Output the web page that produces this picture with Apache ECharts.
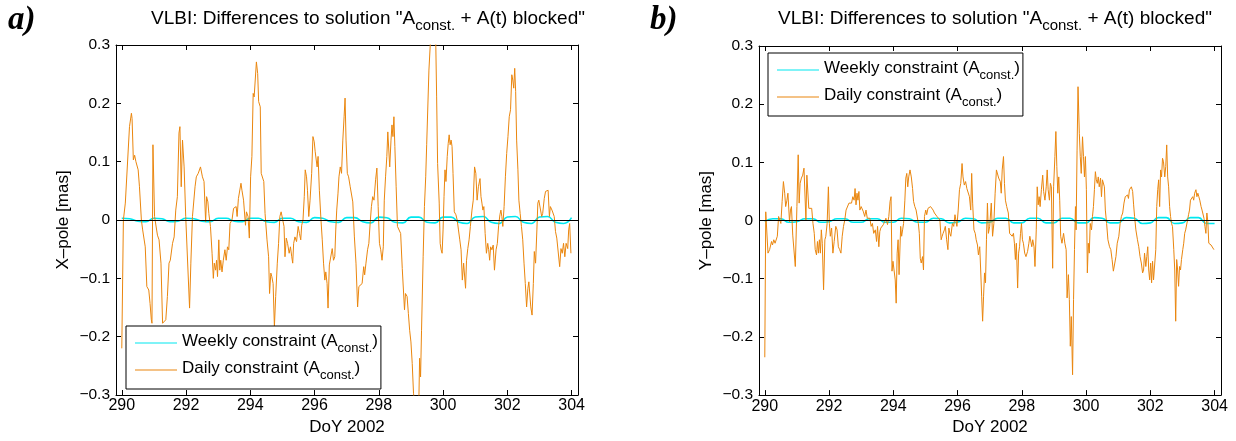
<!DOCTYPE html>
<html>
<head>
<meta charset="utf-8">
<script src="https://cdn.jsdelivr.net/npm/echarts@6/dist/echarts.min.js"></script>
<style>
html,body{margin:0;padding:0;background:#fff;}
#chart{width:1236px;height:441px;}
</style>
</head>
<body>
<div id="chart"></div>
<script>
// ---------------- data ----------------
const xTicks = [290, 292, 294, 296, 298, 300, 302, 304];
const seriesNames = ['Weekly constraint (A_const.)', 'Daily constraint (A_const.)'];
const titleText = 'VLBI: Differences to solution "A_const. + A(t) blocked"';
const yNames = ['X\u2013pole [mas]', 'Y\u2013pole [mas]'];
const xName = 'DoY 2002';
const panelLabels = ['a)', 'b)'];

// weekly constraint solution, sampled every 6 h
const weekDays = [290.00,290.25,290.50,290.75,291.00,291.25,291.50,291.75,292.00,292.25,292.50,292.75,293.00,293.25,293.50,293.75,294.00,294.25,294.50,294.75,295.00,295.25,295.50,295.75,296.00,296.25,296.50,296.75,297.00,297.25,297.50,297.75,298.00,298.25,298.50,298.75,299.00,299.25,299.50,299.75,300.00,300.25,300.50,300.75,301.00,301.25,301.50,301.75,302.00,302.25,302.50,302.75,303.00,303.25,303.50,303.75,304.00];
const weeklyX = [0.003,0.002,-0.002,-0.003,0.003,0.002,-0.003,-0.002,0.003,0.002,-0.002,-0.003,0.003,0.003,-0.002,-0.003,0.003,0.003,-0.003,-0.004,0.003,0.003,-0.003,-0.004,0.004,0.003,-0.003,-0.004,0.004,0.004,-0.003,-0.005,0.005,0.004,-0.004,-0.005,0.005,0.005,-0.004,-0.005,0.005,0.005,-0.004,-0.006,0.005,0.006,-0.004,-0.006,0.005,0.006,-0.004,-0.006,0.005,0.006,-0.004,-0.006,0.004];
const weeklyY = [-0.002,0.003,0.003,-0.003,-0.002,0.003,0.003,-0.003,-0.002,0.003,0.003,-0.003,-0.003,0.003,0.003,-0.003,-0.003,0.004,0.003,-0.003,-0.003,0.004,0.003,-0.004,-0.003,0.004,0.003,-0.004,-0.003,0.004,0.004,-0.004,-0.004,0.004,0.004,-0.004,-0.004,0.004,0.004,-0.004,-0.004,0.005,0.004,-0.004,-0.004,0.005,0.004,-0.005,-0.004,0.005,0.005,-0.005,-0.004,0.005,0.005,-0.005,-0.005];

// daily constraint solution, X-pole: [DoY, mas]
const dailyX = [[290.00,-0.220],[290.05,0.000],[290.11,0.029],[290.24,0.160],[290.30,0.183],[290.32,0.174],[290.36,0.103],[290.40,0.111],[290.44,0.100],[290.48,0.100],[290.51,0.086],[290.55,0.057],[290.61,0.000],[290.65,-0.017],[290.73,-0.046],[290.78,-0.114],[290.84,-0.120],[290.88,-0.143],[290.92,-0.171],[290.94,-0.177],[290.97,0.129],[291.02,0.006],[291.11,-0.026],[291.16,-0.034],[291.22,-0.074],[291.27,-0.177],[291.32,-0.180],[291.37,-0.171],[291.42,-0.131],[291.47,-0.074],[291.51,-0.069],[291.54,-0.069],[291.58,-0.040],[291.63,-0.029],[291.68,0.017],[291.73,0.040],[291.78,0.149],[291.81,0.160],[291.85,0.057],[291.87,0.060],[291.89,0.137],[291.94,0.091],[291.99,0.006],[292.04,-0.060],[292.07,-0.063],[292.11,-0.151],[292.15,-0.074],[292.20,0.006],[292.28,0.057],[292.32,0.074],[292.38,0.080],[292.45,0.091],[292.51,0.074],[292.56,0.066],[292.61,-0.003],[292.64,0.040],[292.68,0.031],[292.71,0.011],[292.76,-0.011],[292.81,-0.057],[292.85,-0.100],[292.88,-0.074],[292.92,-0.086],[292.95,-0.069],[292.98,-0.097],[293.02,-0.034],[293.05,-0.086],[293.08,-0.069],[293.12,-0.089],[293.16,-0.069],[293.21,-0.051],[293.25,-0.069],[293.29,-0.046],[293.33,-0.051],[293.37,-0.006],[293.43,0.000],[293.48,0.020],[293.53,0.017],[293.56,0.023],[293.59,0.006],[293.63,0.037],[293.67,0.034],[293.71,0.063],[293.74,0.051],[293.79,0.034],[293.85,-0.009],[293.88,0.014],[293.93,0.006],[293.97,-0.031],[294.01,0.074],[294.05,0.109],[294.09,0.217],[294.12,0.211],[294.19,0.271],[294.23,0.251],[294.26,0.203],[294.31,0.194],[294.34,0.080],[294.38,0.080],[294.42,0.066],[294.46,0.011],[294.52,-0.034],[294.57,-0.063],[294.60,-0.126],[294.64,-0.091],[294.67,-0.097],[294.71,-0.109],[294.75,-0.183],[294.79,-0.131],[294.84,-0.074],[294.88,-0.040],[294.92,0.006],[294.96,0.014],[295.00,0.017],[295.05,-0.011],[295.08,-0.063],[295.12,-0.031],[295.16,-0.040],[295.21,-0.057],[295.25,-0.046],[295.29,-0.063],[295.32,-0.074],[295.35,-0.040],[295.39,-0.029],[295.44,-0.037],[295.49,-0.011],[295.53,-0.023],[295.57,-0.034],[295.60,-0.009],[295.64,0.000],[295.68,0.040],[295.71,0.086],[295.75,0.074],[295.78,0.051],[295.82,0.006],[295.86,0.034],[295.91,0.080],[295.95,0.143],[295.99,0.134],[296.02,0.117],[296.05,0.120],[296.08,0.091],[296.11,0.109],[296.15,0.051],[296.20,0.000],[296.24,-0.034],[296.28,-0.074],[296.32,-0.103],[296.35,-0.089],[296.39,-0.109],[296.42,-0.151],[296.46,-0.077],[296.51,-0.074],[296.55,-0.049],[296.59,-0.069],[296.63,-0.063],[296.66,-0.017],[296.69,0.017],[296.73,0.046],[296.76,0.074],[296.80,0.091],[296.84,0.080],[296.88,0.137],[296.92,0.177],[296.95,0.209],[296.98,0.137],[297.02,0.080],[297.06,0.074],[297.11,0.057],[297.15,0.060],[297.19,0.031],[297.24,-0.029],[297.29,-0.074],[297.34,-0.149],[297.38,-0.114],[297.43,-0.111],[297.48,-0.109],[297.53,-0.080],[297.56,-0.094],[297.60,-0.074],[297.65,-0.051],[297.69,-0.040],[297.73,-0.006],[297.77,0.023],[297.81,0.040],[297.85,0.034],[297.90,0.069],[297.94,0.089],[297.98,0.023],[298.02,-0.040],[298.06,-0.051],[298.10,-0.069],[298.14,-0.046],[298.17,0.034],[298.21,0.074],[298.25,0.109],[298.28,0.151],[298.31,0.149],[298.34,0.091],[298.38,0.137],[298.41,0.163],[298.44,0.143],[298.47,0.177],[298.50,0.126],[298.54,0.057],[298.58,-0.011],[298.63,-0.011],[298.68,-0.023],[298.73,-0.083],[298.76,-0.086],[298.80,-0.154],[298.83,-0.126],[298.88,-0.131],[298.92,-0.160],[298.96,-0.189],[299.00,-0.209],[299.04,-0.246],[299.08,-0.297],[299.15,-0.331],[299.21,-0.340],[299.25,-0.300],[299.27,-0.237],[299.30,-0.269],[299.33,-0.189],[299.38,-0.063],[299.42,0.023],[299.46,0.074],[299.49,0.129],[299.53,0.129],[299.56,0.257],[299.59,0.260],[299.63,0.330],[299.69,0.360],[299.75,0.340],[299.77,0.314],[299.80,0.211],[299.83,0.097],[299.88,0.029],[299.91,-0.040],[299.94,-0.051],[299.97,-0.057],[300.00,-0.017],[300.03,0.040],[300.06,0.086],[300.09,0.066],[300.13,0.109],[300.16,0.131],[300.19,0.146],[300.22,0.129],[300.25,0.137],[300.28,0.126],[300.31,0.080],[300.35,0.014],[300.40,0.009],[300.44,0.000],[300.48,-0.017],[300.52,-0.034],[300.56,-0.051],[300.60,-0.103],[300.64,-0.074],[300.67,-0.074],[300.70,-0.117],[300.73,-0.069],[300.77,-0.049],[300.81,-0.034],[300.85,-0.011],[300.90,0.017],[300.94,0.034],[300.98,0.091],[301.02,0.080],[301.06,0.034],[301.10,0.057],[301.15,0.071],[301.18,0.040],[301.21,0.029],[301.24,0.017],[301.27,0.023],[301.31,-0.023],[301.35,-0.057],[301.39,-0.040],[301.42,-0.051],[301.45,-0.069],[301.48,-0.046],[301.52,-0.051],[301.56,-0.043],[301.60,-0.086],[301.65,-0.051],[301.69,-0.040],[301.73,-0.009],[301.77,0.009],[301.80,0.017],[301.83,0.006],[301.86,-0.011],[301.90,0.023],[301.94,0.074],[301.98,0.114],[302.02,0.143],[302.06,0.177],[302.10,0.189],[302.14,0.249],[302.17,0.240],[302.20,0.226],[302.23,0.260],[302.26,0.220],[302.29,0.137],[302.33,0.086],[302.36,0.034],[302.40,0.011],[302.44,-0.011],[302.48,-0.034],[302.52,-0.074],[302.56,-0.109],[302.60,-0.149],[302.64,-0.117],[302.67,-0.106],[302.70,-0.109],[302.73,-0.149],[302.77,-0.163],[302.81,-0.109],[302.84,-0.054],[302.88,-0.074],[302.92,-0.017],[302.95,0.029],[302.98,0.034],[303.01,0.037],[303.04,0.034],[303.07,0.006],[303.10,0.011],[303.15,0.037],[303.19,0.049],[303.23,0.051],[303.27,0.051],[303.31,0.006],[303.34,0.023],[303.39,0.017],[303.43,0.014],[303.46,0.006],[303.50,-0.020],[303.54,-0.031],[303.58,-0.034],[303.63,-0.080],[303.67,-0.049],[303.71,-0.057],[303.75,-0.040],[303.79,-0.063],[303.83,-0.040],[303.88,-0.049],[303.91,-0.017],[303.94,-0.006],[303.98,-0.057]];

// daily constraint solution, Y-pole: [DoY, mas]
const dailyY = [[290.00,-0.235],[290.03,0.015],[290.10,-0.056],[290.15,-0.050],[290.21,-0.036],[290.24,-0.042],[290.28,-0.033],[290.32,-0.039],[290.36,-0.036],[290.39,-0.027],[290.43,0.007],[290.46,0.010],[290.50,-0.005],[290.54,0.033],[290.58,0.067],[290.62,0.047],[290.65,0.024],[290.69,0.035],[290.72,0.047],[290.75,0.050],[290.77,-0.002],[290.80,0.018],[290.83,0.024],[290.87,-0.025],[290.91,-0.027],[290.95,-0.079],[291.00,0.024],[291.04,0.113],[291.07,0.030],[291.10,0.064],[291.14,0.073],[291.18,0.078],[291.22,0.090],[291.25,0.087],[291.28,0.001],[291.31,0.078],[291.34,0.078],[291.37,0.021],[291.42,0.021],[291.46,0.021],[291.50,-0.005],[291.54,-0.022],[291.57,-0.050],[291.61,-0.059],[291.64,-0.036],[291.67,-0.056],[291.70,-0.033],[291.73,-0.056],[291.76,-0.016],[291.79,-0.039],[291.83,-0.119],[291.87,-0.033],[291.90,-0.027],[291.94,-0.005],[291.98,0.058],[292.01,-0.005],[292.04,-0.027],[292.08,-0.013],[292.12,-0.056],[292.16,-0.036],[292.21,-0.010],[292.25,-0.016],[292.29,-0.045],[292.33,-0.050],[292.37,-0.056],[292.41,-0.027],[292.45,-0.010],[292.49,0.001],[292.53,0.018],[292.57,0.021],[292.62,0.030],[292.66,0.027],[292.70,0.030],[292.74,0.041],[292.78,0.035],[292.81,0.055],[292.84,0.027],[292.87,0.047],[292.90,0.035],[292.93,0.050],[292.96,0.018],[293.00,0.024],[293.03,0.021],[293.07,0.015],[293.11,0.007],[293.15,0.018],[293.19,0.004],[293.23,0.007],[293.27,0.004],[293.31,-0.010],[293.35,-0.005],[293.39,-0.022],[293.44,-0.016],[293.48,-0.036],[293.51,-0.010],[293.55,-0.045],[293.58,-0.019],[293.61,-0.013],[293.65,-0.010],[293.69,-0.007],[293.73,-0.002],[293.77,0.004],[293.82,-0.007],[293.86,0.007],[293.90,0.033],[293.93,0.041],[293.96,-0.087],[293.99,-0.070],[294.03,-0.073],[294.06,-0.102],[294.09,-0.142],[294.12,-0.056],[294.15,-0.033],[294.18,-0.093],[294.23,-0.010],[294.26,-0.027],[294.29,-0.016],[294.32,-0.005],[294.36,0.035],[294.39,0.073],[294.42,0.081],[294.45,0.058],[294.48,0.075],[294.52,0.087],[294.56,0.075],[294.60,0.055],[294.63,0.033],[294.67,0.024],[294.71,0.018],[294.75,0.015],[294.78,-0.005],[294.81,-0.022],[294.84,-0.065],[294.87,-0.073],[294.91,-0.062],[294.94,-0.085],[294.97,0.007],[295.01,0.018],[295.04,0.010],[295.08,0.021],[295.12,0.018],[295.16,0.024],[295.20,0.027],[295.24,0.018],[295.28,0.013],[295.32,0.010],[295.36,0.007],[295.41,0.004],[295.45,0.001],[295.49,-0.033],[295.52,-0.027],[295.55,-0.022],[295.59,-0.016],[295.62,-0.010],[295.66,-0.033],[295.70,-0.050],[295.73,-0.013],[295.76,-0.022],[295.79,-0.027],[295.84,-0.005],[295.88,-0.010],[295.92,0.010],[295.95,0.007],[295.98,-0.010],[296.02,0.018],[296.06,0.053],[296.10,0.064],[296.14,0.098],[296.17,0.075],[296.21,0.061],[296.25,0.067],[296.29,0.055],[296.33,0.055],[296.37,0.041],[296.41,0.018],[296.44,0.081],[296.47,0.030],[296.51,-0.016],[296.55,-0.022],[296.58,-0.033],[296.62,-0.042],[296.65,-0.059],[296.69,-0.045],[296.72,-0.085],[296.75,-0.130],[296.78,-0.173],[296.81,-0.130],[296.84,-0.090],[296.87,-0.107],[296.90,-0.033],[296.93,0.030],[296.96,-0.022],[297.00,-0.010],[297.05,0.030],[297.09,-0.027],[297.13,-0.005],[297.17,0.047],[297.21,0.087],[297.25,0.084],[297.28,0.073],[297.33,0.067],[297.36,0.047],[297.39,0.087],[297.43,0.110],[297.46,0.064],[297.49,0.035],[297.53,0.024],[297.58,0.013],[297.62,-0.022],[297.66,-0.019],[297.70,-0.027],[297.74,-0.022],[297.77,-0.039],[297.80,-0.067],[297.83,-0.039],[297.87,-0.116],[297.90,-0.056],[297.93,-0.045],[297.96,-0.022],[297.99,-0.005],[298.02,-0.033],[298.05,-0.039],[298.09,-0.056],[298.13,-0.062],[298.18,-0.053],[298.22,-0.039],[298.25,-0.027],[298.28,-0.025],[298.31,-0.045],[298.34,-0.033],[298.38,-0.045],[298.41,-0.079],[298.45,-0.016],[298.48,0.058],[298.51,0.027],[298.54,0.041],[298.57,0.024],[298.61,0.053],[298.65,0.078],[298.68,0.050],[298.72,0.035],[298.76,0.058],[298.79,0.087],[298.82,0.053],[298.86,0.035],[298.89,0.064],[298.92,0.058],[298.96,-0.082],[298.99,0.058],[299.03,0.110],[299.06,0.153],[299.09,0.093],[299.12,0.047],[299.15,0.075],[299.18,0.035],[299.21,-0.027],[299.25,-0.039],[299.30,-0.022],[299.34,-0.039],[299.38,-0.050],[299.41,-0.133],[299.45,-0.093],[299.48,-0.136],[299.51,-0.216],[299.54,-0.165],[299.58,-0.265],[299.61,-0.136],[299.64,-0.050],[299.67,0.024],[299.69,-0.016],[299.72,0.121],[299.75,0.230],[299.79,0.150],[299.82,0.110],[299.85,0.081],[299.89,0.144],[299.92,0.110],[299.95,0.075],[299.98,0.110],[300.01,0.053],[300.04,-0.090],[300.07,-0.039],[300.10,-0.056],[300.13,-0.005],[300.17,-0.016],[300.20,0.007],[300.23,0.024],[300.26,0.053],[300.29,0.084],[300.32,0.070],[300.35,0.064],[300.38,0.075],[300.41,0.058],[300.45,0.073],[300.48,0.041],[300.51,0.070],[300.54,0.070],[300.57,0.058],[300.60,0.018],[300.64,-0.005],[300.68,-0.033],[300.73,-0.045],[300.77,-0.050],[300.81,-0.067],[300.85,-0.087],[300.89,-0.090],[300.93,-0.062],[300.97,-0.039],[301.02,-0.027],[301.06,-0.005],[301.10,0.007],[301.14,0.013],[301.18,0.030],[301.22,0.041],[301.25,0.041],[301.29,0.044],[301.32,0.038],[301.35,0.053],[301.38,0.053],[301.41,0.058],[301.45,0.050],[301.48,0.027],[301.51,0.007],[301.55,-0.016],[301.60,-0.033],[301.64,-0.045],[301.68,-0.062],[301.72,-0.073],[301.76,-0.090],[301.79,-0.085],[301.82,-0.056],[301.86,-0.079],[301.89,-0.062],[301.92,-0.045],[301.95,-0.085],[301.98,-0.102],[302.01,-0.073],[302.04,-0.107],[302.07,-0.070],[302.10,-0.102],[302.13,-0.105],[302.17,-0.050],[302.20,0.024],[302.23,0.053],[302.26,0.070],[302.29,0.024],[302.32,0.087],[302.35,0.075],[302.38,0.107],[302.41,0.101],[302.45,0.075],[302.48,0.093],[302.51,0.130],[302.54,0.075],[302.57,0.058],[302.60,0.024],[302.63,0.007],[302.66,-0.005],[302.69,-0.010],[302.73,-0.050],[302.76,-0.085],[302.79,-0.173],[302.82,-0.067],[302.85,-0.085],[302.88,-0.113],[302.91,-0.079],[302.94,-0.085],[302.97,-0.067],[303.01,-0.050],[303.04,-0.039],[303.07,-0.022],[303.10,-0.016],[303.13,-0.013],[303.16,0.001],[303.19,0.010],[303.22,0.018],[303.25,0.035],[303.29,0.035],[303.32,0.041],[303.35,0.035],[303.38,0.047],[303.42,0.053],[303.45,0.041],[303.48,0.047],[303.51,0.041],[303.54,0.035],[303.58,0.024],[303.61,0.018],[303.64,0.018],[303.67,0.004],[303.70,-0.010],[303.73,-0.022],[303.76,0.013],[303.79,-0.002],[303.82,-0.039],[303.86,-0.042],[303.89,-0.042],[303.92,-0.045],[303.95,-0.045],[303.98,-0.050]];

// ---------------- chart ----------------
const FONT = '"Liberation Sans", Arial, Helvetica, sans-serif';
const CYAN = '#00E8F0';
const ORANGE = '#EA860E';
const X_MIN = 289.82, X_MAX = 304.2;

function zip(xs, ys) { return xs.map((x, i) => [x, ys[i]]); }
function yFmt(v) {
  const r = Math.round(v * 10) / 10;
  if (r === 0) return '0';
  return r < 0 ? '\u2212' + Math.abs(r).toFixed(1) : r.toFixed(1);
}
// turn "X_sub rest" into rich-text tokens (main text + lowered subscript)
function richSub(s) {
  const m = s.match(/^(.*?)_([a-z.]+)(.*)$/);
  if (!m) return '{n|' + s + '}';
  return '{n|' + m[1] + '}{sub|' + m[2] + '}{n|' + m[3] + '}';
}

const legendRich = {
  n: { fontSize: 17, fontFamily: FONT, color: '#000', lineHeight: 20, verticalAlign: 'top' },
  sub: { fontSize: 13, fontFamily: FONT, color: '#000', lineHeight: 15, padding: [11, 0, 0, 0] }
};
const titleRich = {
  n: { fontSize: 19, fontFamily: FONT, color: '#000', lineHeight: 22, verticalAlign: 'top' },
  sub: { fontSize: 15, fontFamily: FONT, color: '#000', lineHeight: 17, padding: [12, 0, 0, 0] }
};

const grids = [
  { left: 116, top: 45, width: 462, height: 350 },
  { left: 759, top: 46, width: 462, height: 350 }
];

const xAxes = [], yAxes = [];
grids.forEach((g, gi) => {
  xAxes.push({
    type: 'value', gridIndex: gi, position: 'bottom', min: X_MIN, max: X_MAX,
    name: xName, nameLocation: 'middle', nameGap: 23,
    nameTextStyle: { fontSize: 17, fontFamily: FONT, color: '#000' },
    axisLine: { show: true, onZero: false, lineStyle: { color: '#000', width: 1 } },
    axisTick: { show: true, inside: true, length: 5, customValues: xTicks, lineStyle: { color: '#000' } },
    axisLabel: { show: true, customValues: xTicks, fontSize: 16, fontFamily: FONT, color: '#000', margin: 3,
      formatter: v => String(Math.round(v)) },
    splitLine: { show: false }
  });
  xAxes.push({
    type: 'value', gridIndex: gi, position: 'top', min: X_MIN, max: X_MAX,
    axisLine: { show: true, onZero: false, lineStyle: { color: '#000', width: 1 } },
    axisTick: { show: true, inside: true, length: 5, customValues: xTicks, lineStyle: { color: '#000' } },
    axisLabel: { show: false }, splitLine: { show: false }
  });
  yAxes.push({
    type: 'value', gridIndex: gi, position: 'left', min: -0.3, max: 0.3, interval: 0.1,
    name: yNames[gi], nameLocation: 'middle', nameGap: 44, nameRotate: 90,
    nameTextStyle: { fontSize: 17, fontFamily: FONT, color: '#000' },
    axisLine: { show: true, onZero: false, lineStyle: { color: '#000', width: 1 } },
    axisTick: { show: true, inside: true, length: 5, lineStyle: { color: '#000' } },
    axisLabel: { fontSize: 15.5, fontFamily: FONT, color: '#000', margin: 6, formatter: yFmt },
    splitLine: { show: false }
  });
  yAxes.push({
    type: 'value', gridIndex: gi, position: 'right', min: -0.3, max: 0.3, interval: 0.1,
    axisLine: { show: true, onZero: false, lineStyle: { color: '#000', width: 1 } },
    axisTick: { show: true, inside: true, length: 5, lineStyle: { color: '#000' } },
    axisLabel: { show: false }, splitLine: { show: false }
  });
});

function lineSeries(name, data, gi, color, width, smooth) {
  return {
    name: name, type: 'line', xAxisIndex: gi * 2, yAxisIndex: gi * 2, data: data,
    symbol: 'none', showSymbol: false, smooth: smooth, clip: true,
    lineStyle: { color: color, width: width }, itemStyle: { color: color },
    emphasis: { disabled: true }, silent: true, animation: false
  };
}
function zeroSeries(gi) {
  return {
    name: 'zero' + gi, type: 'line', xAxisIndex: gi * 2, yAxisIndex: gi * 2, data: [], z: 5,
    markLine: { silent: true, symbol: 'none', label: { show: false }, animation: false,
      lineStyle: { color: '#000', width: 1, type: 'solid' }, data: [{ yAxis: 0 }] }
  };
}

const series = [
  lineSeries(seriesNames[0], zip(weekDays, weeklyX), 0, CYAN, 1.6, true),
  lineSeries(seriesNames[1], dailyX, 0, ORANGE, 1, false),
  zeroSeries(0),
  lineSeries(seriesNames[0], zip(weekDays, weeklyY), 1, CYAN, 1.6, true),
  lineSeries(seriesNames[1], dailyY, 1, ORANGE, 1, false),
  zeroSeries(1)
];

function legendAt(left, top) {
  return {
    data: seriesNames, orient: 'vertical', left: left, top: top,
    itemWidth: 42, itemHeight: 14, itemGap: 3, padding: [5, 3, 7, 9],
    backgroundColor: '#fff', borderColor: '#000', borderWidth: 1,
    icon: 'path://M0,0 L42,0 L42,1 L0,1 Z',
    selectedMode: false, formatter: richSub,
    textStyle: { fontSize: 17, fontFamily: FONT, color: '#000', rich: legendRich }
  };
}

function titleAt(cx) {
  return {
    text: richSub(titleText), left: cx, top: 4, textAlign: 'center',
    textStyle: { fontSize: 19, fontWeight: 'normal', fontFamily: FONT, color: '#000', rich: titleRich }
  };
}

const labelFont = 'italic bold 33px "Liberation Serif", "Times New Roman", serif';
const option = {
  animation: false,
  backgroundColor: '#fff',
  title: [titleAt(363), titleAt(990)],
  grid: grids,
  xAxis: xAxes,
  yAxis: yAxes,
  legend: [legendAt(126, 326), legendAt(768, 53)],
  graphic: [
    { type: 'text', left: 8, top: 4, style: { text: panelLabels[0], font: labelFont, fill: '#000' } },
    { type: 'text', left: 650, top: 4, style: { text: panelLabels[1], font: labelFont, fill: '#000' } }
  ],
  series: series
};

const chart = echarts.init(document.getElementById('chart'), null, { renderer: 'canvas' });
chart.setOption(option);
</script>
</body>
</html>
